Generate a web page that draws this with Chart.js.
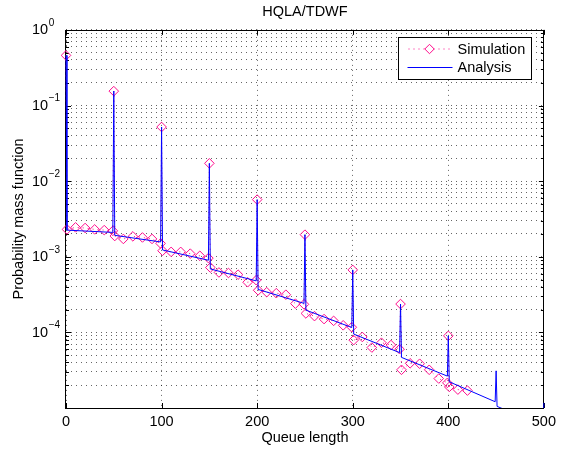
<!DOCTYPE html>
<html>
<head>
<meta charset="utf-8">
<title>HQLA/TDWF</title>
<script src="https://cdn.jsdelivr.net/npm/chart.js@4/dist/chart.umd.min.js"></script>
<style>
  html, body { margin: 0; padding: 0; background: #fff; }
</style>
</head>
<body>
<canvas id="graphique-pmf" width="561" height="453"></canvas>
<script>
// Simulation (diamants)
const simX = [0, 1, 10, 20, 30, 40, 49,
  50, 51, 60, 70, 80, 90, 99,
  100, 101, 110, 120, 130, 140, 149,
  150, 151, 160, 170, 180, 190, 199,
  200, 201, 210, 220, 230, 240, 249,
  250, 251, 260, 270, 280, 290, 299,
  300, 301, 310, 320, 330, 340, 349,
  350, 351, 360, 370, 380, 390, 399,
  400, 401, 410, 420];
const simY = [0.46, 2.3e-3, 2.45e-3, 2.4e-3, 2.3e-3, 2.25e-3, 2.2e-3,
  0.155, 1.88e-3, 1.72e-3, 1.86e-3, 1.8e-3, 1.72e-3, 1.5e-3,
  0.052, 1.2e-3, 1.16e-3, 1.16e-3, 1.1e-3, 1.03e-3, 9.6e-4,
  0.0172, 7.2e-4, 6.2e-4, 6.1e-4, 5.8e-4, 4.6e-4, 4.9e-4,
  5.7e-3, 3.6e-4, 3.4e-4, 3.3e-4, 3.15e-4, 2.4e-4, 2.35e-4,
  1.96e-3, 1.78e-4, 1.64e-4, 1.5e-4, 1.42e-4, 1.24e-4, 1.17e-4,
  6.7e-4, 7.9e-5, 8.7e-5, 6.3e-5, 7.3e-5, 6.8e-5, 6.0e-5,
  2.37e-4, 3.2e-5, 3.9e-5, 3.85e-5, 3.2e-5, 2.45e-5, 2.15e-5,
  9.0e-5, 1.9e-5, 1.75e-5, 1.7e-5];

// Analyse (ligne bleue)
const anaX = [0, 1, 49, 50, 51, 99, 100, 101, 149, 150, 151, 199, 200, 201,
  249, 250, 251, 299, 300, 301, 349, 350, 351, 399, 400, 401, 449, 450, 451, 499, 500];
const anaY = [0.46, 2.25e-3, 2.1e-3, 0.155, 1.92e-3, 1.57e-3, 0.052, 1.23e-3, 9.0e-4,
  0.0172, 6.9e-4, 4.8e-4, 5.7e-3, 3.7e-4, 2.42e-4, 1.96e-3, 1.97e-4, 1.16e-4,
  6.7e-4, 9.5e-5, 5.4e-5, 2.37e-4, 4.67e-5, 2.64e-5, 9.0e-5, 2.22e-5, 1.21e-5,
  3.1e-5, 1.05e-5, 5.9e-6, 1.17e-5];

const xTicks = [0, 100, 200, 300, 400, 500];
const yPowers = [0, -1, -2, -3, -4];
const yMinPower = -5;

const police = '"Liberation Sans", Arial, Helvetica, sans-serif';
const rose = "#ff0a8c";
const bleu = "#0000ff";
const grille = "rgba(0,0,0,0.6)";

// lignes de grille : décades + 2..9
const yGrid = [];
for (let p = yMinPower; p < 0; p++) {
    for (let m = 1; m <= 9; m++) {
        yGrid.push(m * Math.pow(10, p));
    }
}
yGrid.push(1);

function pointsDe(xs, ys){
    const pts = [];
    for (let i = 0; i < xs.length; i++){
        pts.push({x: xs[i], y: ys[i]});
    }
    return pts;
}

function estDecade(v){
    const l = Math.log10(v);
    return Math.abs(l - Math.round(l)) < 1e-9;
}

// cadre, graduations intérieures, étiquettes 10^n et légende façon MATLAB
const cadreMatlab = {
    id: "cadreMatlab",
    beforeDatasetsDraw(chart){
        // cadre sous les données
        const ctx = chart.ctx;
        const a = chart.chartArea;
        const sx = chart.scales.x;
        const sy = chart.scales.y;
        ctx.save();
        ctx.strokeStyle = "#000";
        ctx.lineWidth = 1;
        ctx.beginPath();
        for (const v of xTicks){
            const px = Math.round(sx.getPixelForValue(v)) + 0.5;
            ctx.moveTo(px, a.bottom); ctx.lineTo(px, a.bottom - 5);
            ctx.moveTo(px, a.top); ctx.lineTo(px, a.top + 5);
        }
        for (const v of yGrid){
            const py = Math.round(sy.getPixelForValue(v)) + 0.5;
            const len = estDecade(v) ? 5 : 3;
            ctx.moveTo(a.left, py); ctx.lineTo(a.left + len, py);
            ctx.moveTo(a.right, py); ctx.lineTo(a.right - len, py);
        }
        ctx.stroke();
        ctx.strokeRect(Math.round(a.left) - 0.5, Math.round(a.top) + 0.5,
            Math.round(a.right - a.left), Math.round(a.bottom - a.top));
        ctx.restore();
    },
    afterDraw(chart){
        const ctx = chart.ctx;
        const a = chart.chartArea;
        const sy = chart.scales.y;
        ctx.save();
        ctx.fillStyle = "#000";
        ctx.textAlign = "left";
        ctx.textBaseline = "middle";
        for (const p of yPowers){
            const py = sy.getPixelForValue(Math.pow(10, p));
            ctx.font = "14.5px " + police;
            const x0 = 32;
            ctx.fillText("10", x0, py + 0.5);
            const w = ctx.measureText("10").width;
            ctx.font = "10px " + police;
            const exp = p === 0 ? "0" : "\u2212" + (-p);
            ctx.fillText(exp, x0 + w + 0.5, py - 7);
        }

        // légende
        const lx = Math.round(a.right) - 145.5;
        const ly = Math.round(a.top) + 7.5;
        const lw = 133, lh = 42;
        ctx.fillStyle = "#fff";
        ctx.fillRect(lx, ly, lw, lh);
        ctx.strokeStyle = "#000";
        ctx.lineWidth = 1;
        ctx.strokeRect(lx, ly, lw, lh);

        const y1 = ly + 11.5, y2 = ly + 30;
        ctx.strokeStyle = rose;
        ctx.setLineDash([1, 4]);
        ctx.beginPath();
        ctx.moveTo(lx + 10, y1); ctx.lineTo(lx + 53, y1);
        ctx.stroke();
        ctx.setLineDash([]);
        const cx = lx + 31, r = 4.7;
        ctx.beginPath();
        ctx.moveTo(cx - r, y1); ctx.lineTo(cx, y1 - r);
        ctx.lineTo(cx + r, y1); ctx.lineTo(cx, y1 + r);
        ctx.closePath();
        ctx.fillStyle = "#fff";
        ctx.fill();
        ctx.stroke();

        ctx.strokeStyle = bleu;
        ctx.beginPath();
        ctx.moveTo(lx + 9, y2); ctx.lineTo(lx + 54, y2);
        ctx.stroke();

        ctx.fillStyle = "#000";
        ctx.font = "14.5px " + police;
        ctx.fillText("Simulation", lx + 59, y1 + 0.5);
        ctx.fillText("Analysis", lx + 59, y2 + 0.5);
        ctx.restore();
    }
};

const data = {
    datasets: [{
        label: "Simulation",
        data: pointsDe(simX, simY),
        borderColor: rose,
        borderWidth: 1,
        borderDash: [1, 4],
        pointStyle: "rectRot",
        pointRadius: 4.8,
        pointBorderWidth: 1,
        pointBorderColor: rose,
        pointBackgroundColor: "rgba(0,0,0,0)",
        clip: { left: 10, top: 10, right: 10, bottom: 10 },
        order: 2
    }, {
        label: "Analysis",
        data: pointsDe(anaX, anaY),
        borderColor: bleu,
        borderWidth: 1,
        pointRadius: 0,
        clip: { left: 3, top: 3, right: 3, bottom: 0 },
        order: 1
    }]
};

const config = {
    type: "line",
    data: data,
    plugins: [cadreMatlab],
    options: {
        responsive: false,
        animation: false,
        events: [],
        layout: { padding: { left: 0, right: 15, top: 0, bottom: 0 } },
        plugins: {
            legend: { display: false },
            tooltip: { enabled: false },
            title: {
                display: true,
                text: "HQLA/TDWF",
                fullSize: false,
                color: "#000",
                font: { family: police, size: 14.5, weight: "normal" },
                padding: { top: 3, bottom: 9.5 }
            }
        },
        scales: {
            x: {
                type: "linear",
                min: 0,
                max: 500,
                afterBuildTicks: scale => { scale.ticks = xTicks.map(v => ({value: v})); },
                afterFit: scale => { scale.height = 45; },
                ticks: { color: "#000", font: { family: police, size: 14.5 }, padding: 5, maxRotation: 0, autoSkip: false },
                grid: { color: grille, drawTicks: false },
                border: { display: false, dash: [1, 4] },
                title: {
                    display: true,
                    text: "Queue length",
                    color: "#000",
                    font: { family: police, size: 14.5 },
                    padding: { top: 0, bottom: 6 }
                }
            },
            y: {
                type: "logarithmic",
                min: Math.pow(10, yMinPower),
                max: 1,
                afterBuildTicks: scale => { scale.ticks = yGrid.map(v => ({value: v})); },
                afterFit: scale => { scale.width = 66; },
                ticks: { display: false },
                grid: { color: grille, drawTicks: false },
                border: { display: false, dash: [1, 4] },
                title: {
                    display: true,
                    text: "Probability mass function",
                    color: "#000",
                    font: { family: police, size: 14.5 },
                    padding: { top: 10, bottom: 0 }
                }
            }
        }
    }
};

const graphique = new Chart(document.querySelector("#graphique-pmf"), config);
</script>
</body>
</html>
